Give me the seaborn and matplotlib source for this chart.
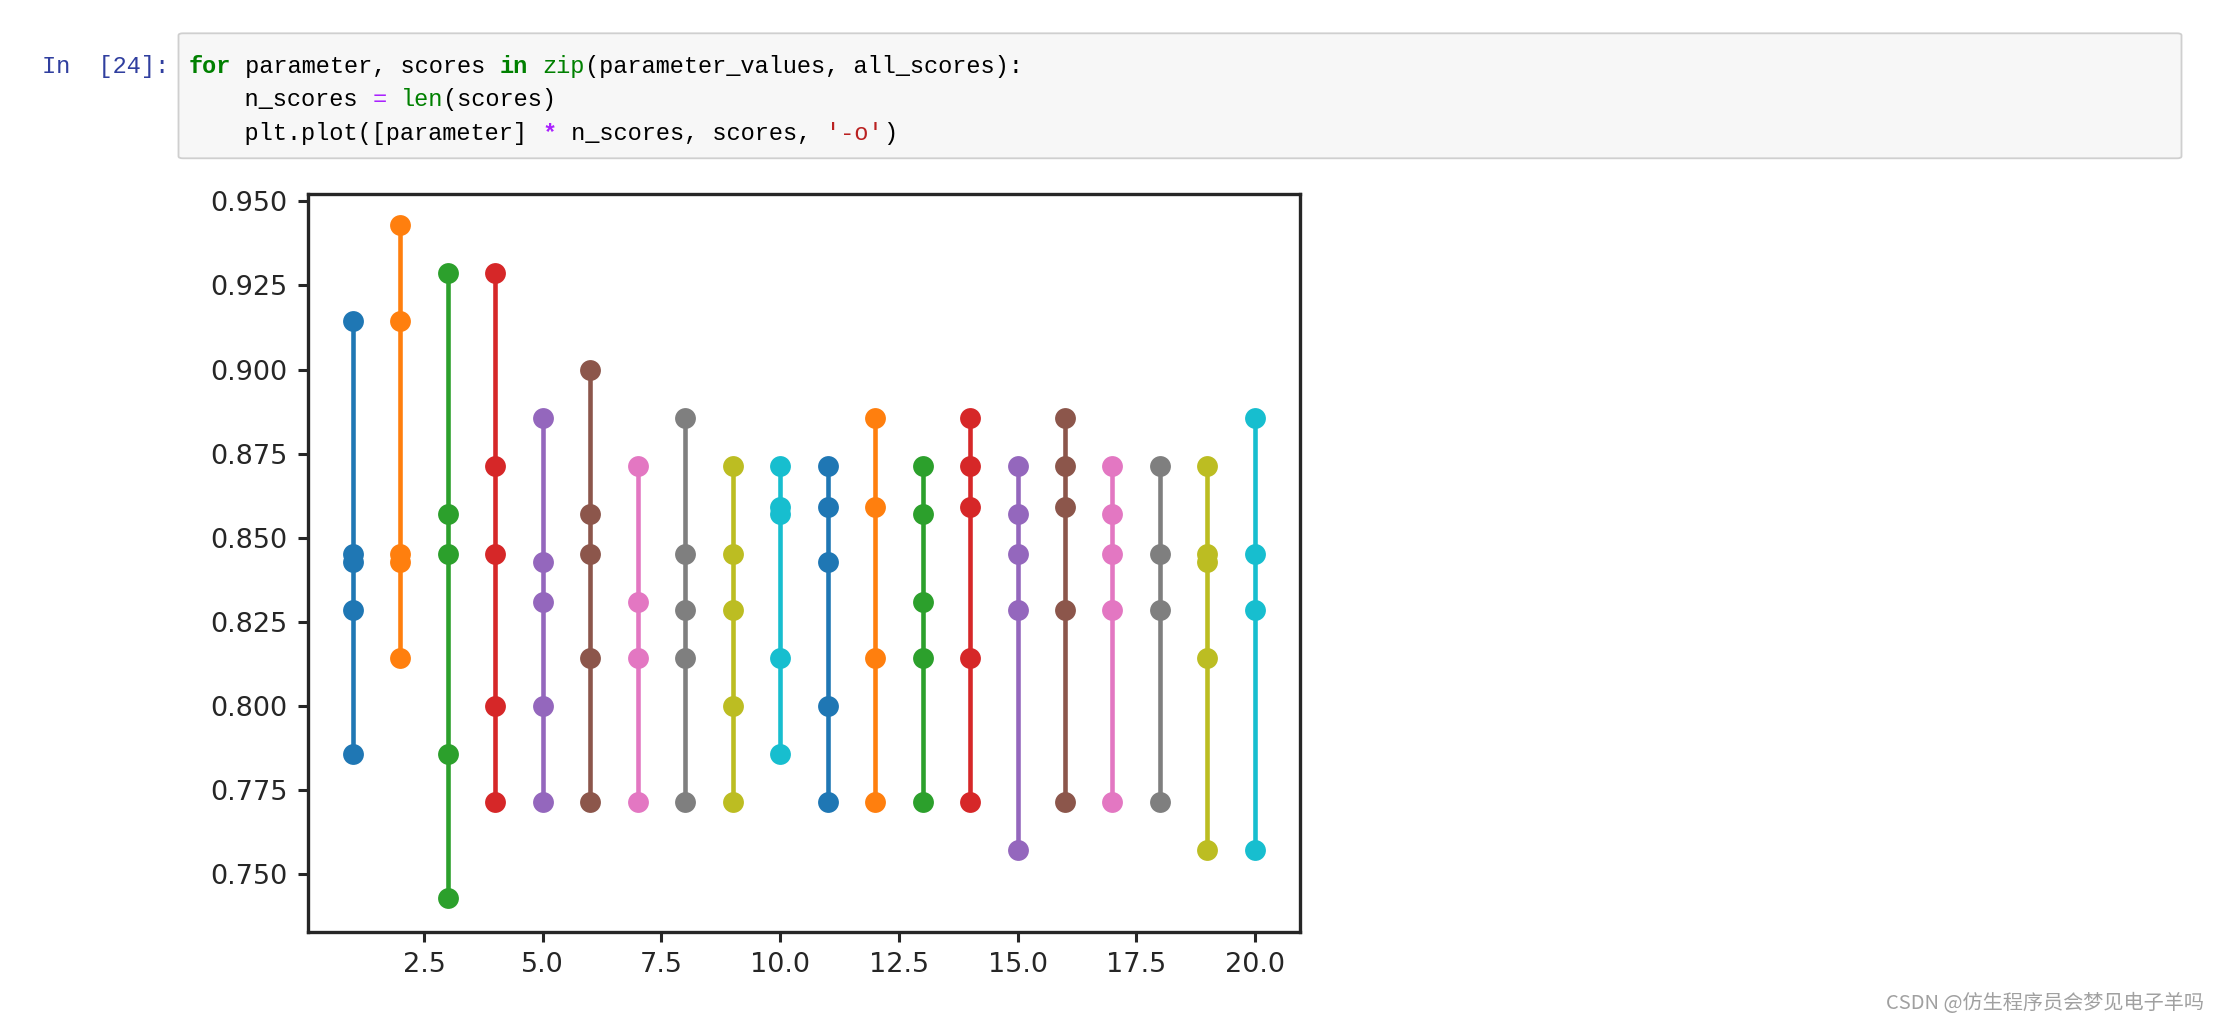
import matplotlib
matplotlib.use("Agg")
import matplotlib.pyplot as plt
from matplotlib import font_manager
from matplotlib.patches import FancyBboxPatch
from matplotlib.ticker import MultipleLocator, FormatStrFormatter
import seaborn as sns
import pandas as pd

# ---------------- data ----------------
parameter_values = list(range(1, 21))
s01 = [0.9143, 0.8451, 0.8429, 0.8286, 0.7857]
s02 = [0.9429, 0.9143, 0.8451, 0.8429, 0.8143]
s03 = [0.9286, 0.8571, 0.8451, 0.7857, 0.7429]
s04 = [0.9286, 0.8714, 0.8451, 0.8000, 0.7714]
s05 = [0.8857, 0.8429, 0.8310, 0.8000, 0.7714]
s06 = [0.9000, 0.8571, 0.8451, 0.8143, 0.7714]
s07 = [0.8714, 0.8310, 0.8143, 0.7714]
s08 = [0.8857, 0.8451, 0.8286, 0.8143, 0.7714]
s09 = [0.8714, 0.8451, 0.8286, 0.8000, 0.7714]
s10 = [0.8714, 0.8592, 0.8571, 0.8143, 0.7857]
s11 = [0.8714, 0.8592, 0.8429, 0.8000, 0.7714]
s12 = [0.8857, 0.8592, 0.8143, 0.7714]
s13 = [0.8714, 0.8571, 0.8310, 0.8143, 0.7714]
s14 = [0.8857, 0.8714, 0.8592, 0.8143, 0.7714]
s15 = [0.8714, 0.8571, 0.8451, 0.8286, 0.7571]
s16 = [0.8857, 0.8714, 0.8592, 0.8286, 0.7714]
s17 = [0.8714, 0.8571, 0.8451, 0.8286, 0.7714]
s18 = [0.8714, 0.8451, 0.8286, 0.7714]
s19 = [0.8714, 0.8451, 0.8429, 0.8143, 0.7571]
s20 = [0.8857, 0.8451, 0.8286, 0.7571]
all_scores = [s01, s02, s03, s04, s05, s06, s07, s08, s09, s10,
              s11, s12, s13, s14, s15, s16, s17, s18, s19, s20]

code_lines = [
    [("for", "#008000", "bold"), (" parameter, scores ", "#000000", "normal"),
     ("in", "#008000", "bold"), (" ", "#000000", "normal"), ("zip", "#008000", "normal"),
     ("(parameter_values, all_scores):", "#000000", "normal")],
    [("    n_scores ", "#000000", "normal"), ("=", "#AA22FF", "normal"), (" ", "#000000", "normal"),
     ("len", "#008000", "normal"), ("(scores)", "#000000", "normal")],
    [("    plt.plot([parameter] ", "#000000", "normal"), ("*", "#AA22FF", "bold"),
     (" n_scores, scores, ", "#000000", "normal"), ("'-o'", "#BA2121", "normal"),
     (")", "#000000", "normal")],
]
prompt_text = "In  [24]:"
watermark = "CSDN @仿生程序员会梦见电子羊吗"

# ---------------- long-form table ----------------
rows = []
for p, sc in zip(parameter_values, all_scores):
    for v in sc:
        rows.append({"parameter": p, "score": v, "group": str(p)})
df = pd.DataFrame(rows)

tab10 = sns.color_palette("tab10", 10)
palette = {str(p): tab10[i % 10] for i, p in enumerate(parameter_values)}

# ---------------- figure ----------------
sns.set_theme(style="ticks")
installed = {f.name for f in font_manager.fontManager.ttflist}
plt.rcParams["font.family"] = ["DejaVu Sans", "Noto Sans CJK SC"]

W, H = 2219, 1022
fig = plt.figure(figsize=(W / 100, H / 100), dpi=100)
fig.patch.set_facecolor("white")

def fx(px):
    return px / W

def fy(py):
    return 1 - py / H

ax = fig.add_axes([fx(307.7), fy(931.7), fx(1300) - fx(307.7), fy(193.7) - fy(931.7)])

sns.lineplot(data=df, x="parameter", y="score", hue="group", palette=palette,
             estimator=None, sort=False, marker="o", markersize=15,
             markeredgewidth=0, linewidth=3.3, legend=False, ax=ax)

ax.set_xlim(0.05, 20.95)
ax.set_ylim(0.73286, 0.95229)
ax.xaxis.set_major_locator(MultipleLocator(2.5))
ax.yaxis.set_major_locator(MultipleLocator(0.025))
ax.xaxis.set_major_formatter(FormatStrFormatter("%.1f"))
ax.yaxis.set_major_formatter(FormatStrFormatter("%.3f"))
ax.set_xlabel("")
ax.set_ylabel("")
ax.tick_params(axis="both", labelsize=19.5, length=7, width=2.2, color="#262626",
               labelcolor="#262626", pad=7.5)
for s in ax.spines.values():
    s.set_visible(True)
    s.set_linewidth(2.4)
    s.set_color("#262626")
ax.set_facecolor("white")

# ---------------- code cell ----------------
box = FancyBboxPatch((fx(178.5), fy(158.3)), fx(2181.5) - fx(178.5), fy(33.3) - fy(158.3),
                     boxstyle="round,pad=0,rounding_size=0.002",
                     transform=fig.transFigure, facecolor="#f7f7f7",
                     edgecolor="#cfcfcf", linewidth=1.3)
fig.patches.append(box)

if "Noto Sans Mono CJK SC" in installed:
    mono = "Noto Sans Mono CJK SC"
    mono_size = 20.2
else:
    mono = "Liberation Mono"
    mono_size = 17.0

charw = 14.17
x0 = 188.3
baselines = [72.7, 106.4, 140.2]
for line, base in zip(code_lines, baselines):
    col = 0
    for txt, color, weight in line:
        fig.text(fx(x0 + col * charw), fy(base), txt, color=color, fontsize=mono_size,
                 family=[mono, "DejaVu Sans Mono"], weight=weight, ha="left",
                 va="baseline")
        col += len(txt)

fig.text(fx(41.7), fy(72.7), prompt_text, color="#303F9F", fontsize=mono_size,
         family=[mono, "DejaVu Sans Mono"], ha="left", va="baseline")

fig.text(fx(2204), fy(1003), watermark, color="#a0a0a0", fontsize=14.5,
         family=["Noto Sans CJK SC", "DejaVu Sans"], ha="right", va="center")

fig.savefig("out.png", dpi=100, facecolor="white")
